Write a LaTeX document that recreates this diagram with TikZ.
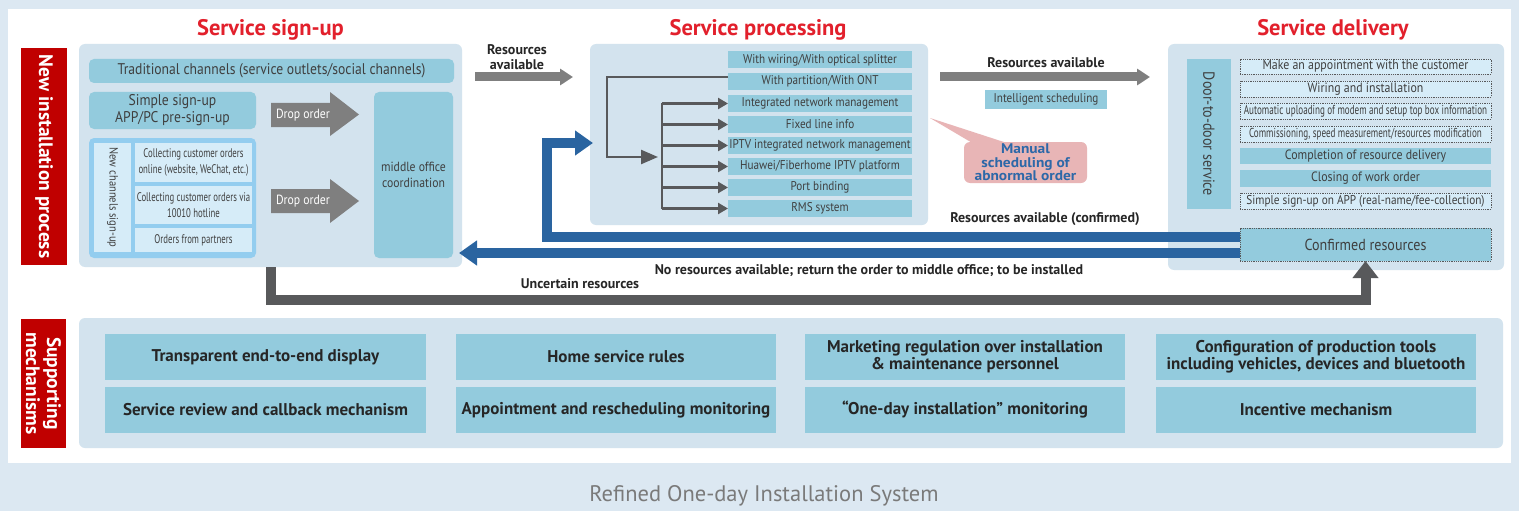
\documentclass[tikz,border=0pt]{standalone}
\usepackage{fontspec}
\setmainfont{PT Sans}
\newfontfamily\cnd{PT Sans}[FakeStretch=0.88]
\newfontfamily\cndx{PT Sans}[FakeStretch=0.7]
\newfontfamily\wide{PT Sans}[FakeStretch=1.1]
\usetikzlibrary{arrows.meta}

\definecolor{bgblue}{HTML}{DCE8F2}
\definecolor{panelblue}{HTML}{D3E3EE}
\definecolor{tealfill}{HTML}{93CBDD}
\definecolor{palefill}{HTML}{D6ECF8}
\definecolor{chanborder}{HTML}{93CDEF}
\definecolor{arrgray}{HTML}{7F7F7F}
\definecolor{darkline}{HTML}{58595B}
\definecolor{flowblue}{HTML}{2A64A0}
\definecolor{sidered}{HTML}{C00000}
\definecolor{titlered}{HTML}{E2202C}
\definecolor{txtgray}{HTML}{3F3F3F}
\definecolor{calloutpink}{HTML}{E8B5B6}
\definecolor{callouttext}{HTML}{2D68A8}
\definecolor{captiongray}{HTML}{7A7A7A}

% box from corner (x1,y1) to (x2,y2), y measured downwards
\newcommand\bx[7][]{\node[base,#1,minimum width={(#4)-(#2)},minimum height={(#5)-(#3)}]
  (#6) at ({((#2)+(#4))/2},{((#3)+(#5))/2}) {#7};}

\begin{document}
\begin{tikzpicture}[x=1pt,y=-1pt,
  base/.style={inner sep=0pt,outer sep=0pt,align=center,text=txtgray},
  panelst/.style={fill=panelblue,rounded corners=6pt},
  tealbox/.style={fill=tealfill},
  palecell/.style={fill=palefill},
  dotbox/.style={draw=darkline,densely dotted,line width=0.8pt},
  bodyfont/.style={font=\cnd\fontsize{15.5}{17}\selectfont},
  smallbody/.style={font=\cnd\fontsize{13.3}{16}\selectfont},
  procfont/.style={font=\cnd\fontsize{12.7}{14}\selectfont},
  delivfont/.style={font=\cnd\fontsize{13.5}{14}\selectfont},
  tightfont/.style={font=\cndx\fontsize{13}{14}\selectfont},
  cellfont/.style={font=\cndx\fontsize{12.5}{16}\selectfont},
  boldlabel/.style={font=\bfseries\fontsize{14}{15}\selectfont,text=black!85,inner sep=0pt},
  supfont/.style={font=\bfseries\fontsize{17}{17}\selectfont,text=black!85},
  title/.style={font=\bfseries\fontsize{22.5}{25}\selectfont,text=titlered,inner sep=0pt},
  sidefont/.style={font=\bfseries\fontsize{19.5}{17}\selectfont,text=white},
  fatgray/.style={draw=arrgray,line width=9pt,-{Triangle[length=13pt,width=16pt]}},
  fatblue/.style={draw=flowblue,line width=10.5pt,line join=miter,-{Triangle[length=18pt,width=24pt]}},
  uncertain/.style={draw=darkline,line width=10pt,line join=miter,-{Triangle[length=17pt,width=25pt]}},
  thinflow/.style={draw=darkline,line width=2.4pt},
]
\useasboundingbox (0,0) rectangle (1519,511);
\fill[bgblue] (0,0) rectangle (1519,511);
\fill[white] (8,9) rectangle (1511,463);

% ---------- section titles ----------
\node[title] (tsign) at (270.5,30) {Service sign-up};
\node[title] (tproc) at (758,30) {Service processing};
\node[title] (tdeliv) at (1333,30) {Service delivery};

% ---------- side bars ----------
\bx[fill=sidered,sidefont]{21}{48}{67}{265}{sidenew}{\rotatebox{-90}{New installation process}}
\bx[fill=sidered,sidefont]{21}{319}{66}{448}{sidesup}{\rotatebox{-90}{\shortstack{Supporting\\mechanisms}}}

% ---------- panels ----------
\bx[panelst]{79}{44}{462}{267}{signup}{}
\bx[panelst]{590}{44}{928}{225}{proc}{}
\bx[panelst]{1168}{44}{1504}{270}{deliv}{}
\bx[panelst]{79}{318}{1503}{448}{supp}{}

% ---------- service sign-up ----------
\bx[tealbox,rounded corners=5pt,bodyfont]{89}{59}{454}{83}{trad}{Traditional channels (service outlets/social channels)}
\bx[tealbox,rounded corners=5pt,bodyfont]{89}{92}{256}{129}{simple}{Simple sign-up\\APP/PC pre-sign-up}
\bx[fill=chanborder,rounded corners=5pt]{89}{138}{256}{258}{newch}{}
\bx[palecell,font=\cnd\fontsize{12}{14}\selectfont]{94}{143}{131}{252}{nclabel}{\rotatebox{-90}{New channels sign-up}}
\bx[palecell,cellfont]{135}{143}{252}{182}{cellweb}{Collecting customer orders\\online (website, WeChat, etc.)}
\bx[palecell,cellfont]{135}{186}{252}{224}{cellhot}{Collecting customer orders via\\10010 hotline}
\bx[palecell,cellfont]{135}{228}{252}{252}{cellpart}{Orders from partners}
\bx[tealbox,rounded corners=5pt,smallbody]{374}{92}{453}{258}{mid}{middle office\\coordination}

% drop-order block arrows
\fill[arrgray] (271,103) -- (330,103) -- (330,92) -- (359,114.5) -- (330,136) -- (330,127) -- (271,127) -- cycle;
\node[base,anchor=west,text=white,smallbody] (drop1) at (276,115) {Drop order};
\fill[arrgray] (271,189) -- (330,189) -- (330,179) -- (359,201) -- (330,223) -- (330,213) -- (271,213) -- cycle;
\node[base,anchor=west,text=white,smallbody] (drop2) at (276,201) {Drop order};

% ---------- service processing ----------
\foreach \n/\yy/\t in {p1/60/{With wiring/With optical splitter},
                        p2/81.5/{With partition/With ONT},
                        p3/103.5/{Integrated network management},
                        p4/124.5/{Fixed line info},
                        p5/145.5/{IPTV integrated network management},
                        p6/166.5/{Huawei/Fiberhome IPTV platform},
                        p7/187.5/{Port binding},
                        p8/208.5/{RMS system}}
  \node[base,tealbox,procfont,minimum width=184pt,minimum height=17pt] (\n) at (820,\yy) {\t};

\coordinate (brcorner) at (607,157);
\coordinate (brtip) at (658,157);
\draw[thinflow,-{Triangle[length=17pt,width=14pt]}] ([yshift=4.5pt]p2.west) -| (brcorner) -- (brtip);
\coordinate (trunk) at (662,0);
\draw[thinflow] (trunk |- p3.west) -- (trunk |- p8.west);
\foreach \i in {3,...,8}
  \draw[thinflow,-{Triangle[length=10pt,width=11pt]}] (trunk |- p\i.west) -- (p\i.west);

% resources available: sign-up -> processing
\coordinate (ra1a) at (475,77);
\coordinate (ra1b) at (573,77);
\draw[fatgray] (ra1a) -- (ra1b);
\node[boldlabel,align=center] (ra1lbl) at (517,57) {Resources\\available};

% resources available: processing -> delivery
\coordinate (ra2a) at (940,77);
\coordinate (ra2b) at (1150,77);
\draw[fatgray] (ra2a) -- (ra2b);
\node[boldlabel] (ra2lbl) at (1046,63) {Resources available};
\bx[tealbox,procfont]{985}{90}{1107}{109}{intel}{Intelligent scheduling}

% abnormal order callout
\coordinate (ptip) at (930,118);
\fill[calloutpink] (ptip) -- (974,144) -- (1010,144) -- cycle;
\bx[fill=calloutpink,rounded corners=6pt,font=\wide\bfseries\fontsize{14}{13.5}\selectfont,text=callouttext]{964}{142}{1087}{183}{manual}{Manual\\scheduling of\\abnormal order}

% ---------- service delivery ----------
\bx[tealbox,font=\cnd\fontsize{16}{17}\selectfont]{1187}{59}{1231}{209}{door}{\rotatebox{-90}{Door-to-door service}}
\bx[palecell,dotbox,delivfont]{1240}{59}{1491}{74}{d1}{Make an appointment with the customer}
\bx[palecell,dotbox,delivfont]{1240}{81}{1491}{97}{d2}{Wiring and installation}
\bx[palecell,dotbox,tightfont]{1240}{103}{1491}{119}{d3}{Automatic uploading of modem and setup top box information}
\bx[palecell,dotbox,tightfont]{1240}{126}{1491}{142}{d4}{Commissioning, speed measurement/resources modification}
\bx[tealbox,delivfont]{1240}{148}{1491}{164}{d5}{Completion of resource delivery}
\bx[tealbox,delivfont]{1240}{170}{1491}{187}{d6}{Closing of work order}
\bx[palecell,dotbox,font=\cnd\fontsize{12.8}{14}\selectfont]{1240}{193}{1491}{209}{d7}{Simple sign-up on APP (real-name/fee-collection)}
\bx[tealbox,dotbox,font=\cnd\fontsize{16}{17}\selectfont]{1240}{228}{1491}{261}{conf}{Confirmed resources}

% ---------- return flows ----------
\coordinate (bend) at (547,143);
\coordinate (confup) at ([yshift=7.5pt]conf.west);
\coordinate (confdown) at ([yshift=-8.5pt]conf.west);
\coordinate (signupback) at ([xshift=-3pt]signup.east);
\draw[fatblue] (confup) -| (bend) -- ([xshift=3pt]proc.west |- bend);
\draw[fatblue] (confdown) -- (signupback |- confdown);
\node[boldlabel] (confirmedlbl) at (1045,219) {Resources available (confirmed)};
\node[boldlabel] (noreslbl) at (869,271) {No resources available; return the order to middle office; to be installed};

\coordinate (ulow) at (0,300);
\draw[uncertain] (signup.south) -- (signup.south |- ulow) -| (conf.south);
\node[boldlabel] (uncertainlbl) at (580,284) {Uncertain resources};

% ---------- supporting mechanisms ----------
\bx[tealbox,supfont]{105}{334}{426}{380}{s1}{Transparent end-to-end display}
\bx[tealbox,supfont]{456}{334}{776}{380}{s2}{Home service rules}
\bx[tealbox,supfont]{805}{334}{1125}{380}{s3}{Marketing regulation over installation\\\& maintenance personnel}
\bx[tealbox,supfont]{1156}{334}{1476}{380}{s4}{Configuration of production tools\\including vehicles, devices and bluetooth}
\bx[tealbox,supfont]{105}{387}{426}{433}{s5}{Service review and callback mechanism}
\bx[tealbox,supfont]{456}{387}{776}{433}{s6}{Appointment and rescheduling monitoring}
\bx[tealbox,supfont]{805}{387}{1125}{433}{s7}{“One-day installation” monitoring}
\bx[tealbox,supfont]{1156}{387}{1476}{433}{s8}{Incentive mechanism}

% ---------- caption ----------
\node[base,text=captiongray,font=\fontsize{22.5}{25}\selectfont] (caption) at (764,496) {Refined One-day Installation System};
\end{tikzpicture}
\end{document}
